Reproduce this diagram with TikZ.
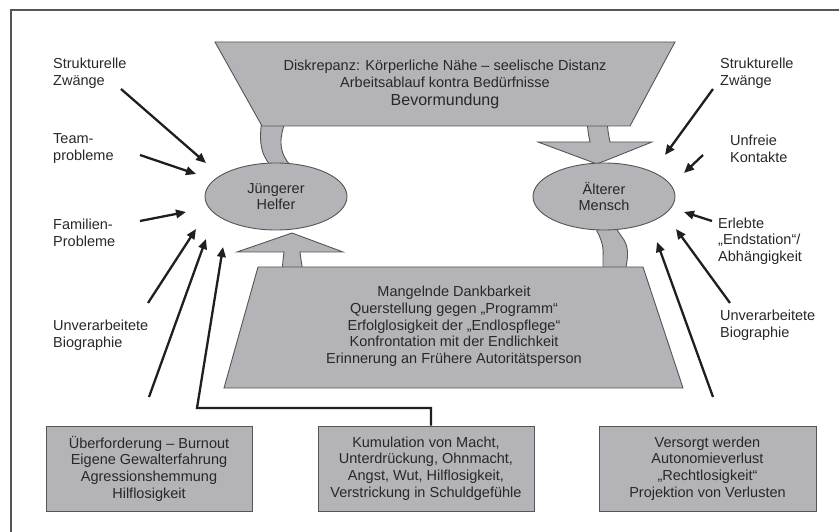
\documentclass[tikz,border=0pt]{standalone}
\usepackage{fontspec}
\setmainfont{Liberation Sans}
\usetikzlibrary{arrows.meta,shapes.geometric,shadows}
\definecolor{fillg}{RGB}{180,180,184}
\definecolor{lineg}{RGB}{85,85,85}
\definecolor{txt}{RGB}{40,40,40}
\begin{document}
\begin{tikzpicture}[x=1pt,y=-1pt,
  lbl/.style={align=left, font=\fontsize{14.5}{16.7}\selectfont, text=txt, inner sep=0pt, anchor=west},
  ctext/.style={align=center, font=\fontsize{14.5}{16.7}\selectfont, text=txt, inner sep=0pt},
  shp/.style={fill=fillg, draw=lineg, line width=0.9pt},
  arr/.style={line width=2.3pt, draw=black!88, -{Triangle[length=10pt,width=8.5pt]}},
  conn/.style={line width=2.3pt, draw=black!88},
  infobox/.style={shp, ctext, minimum height=85pt, drop shadow={shadow xshift=1.2pt, shadow yshift=-1.2pt, fill=black!45, opacity=1}}
]
\useasboundingbox (0,0) rectangle (839,532);
% frame
\draw[lineg, line width=1.2pt] (11,532) -- (11,10) -- (839,10);

% band: top trapezoid -> Juengerer Helfer
\draw[shp] (262,120) .. controls (258,145) and (262,158) .. (275,170)
  -- (295,170) .. controls (282,158) and (276,145) .. (286,120) -- cycle;
% down arrow: top trapezoid -> Aelterer Mensch
\draw[shp] (587,120) .. controls (588,132) .. (590,142) -- (538,142) -- (597,164)
  -- (652,142) -- (610,142) .. controls (608,132) .. (607,120) -- cycle;
% up arrow: bottom trapezoid -> Juengerer Helfer
\draw[shp] (282,272) .. controls (283,260) .. (284,252) -- (237,252) -- (292,233)
  -- (343,252) -- (300,252) .. controls (301,260) .. (303,272) -- cycle;
% band: Aelterer Mensch -> bottom trapezoid
\draw[shp] (592,222) .. controls (600,236) and (604,244) .. (603,256) -- (603,272)
  -- (625,272) .. controls (627,262) and (630,250) .. (624,240) .. controls (620,234) and (616,230) .. (614,222) -- cycle;

% top trapezoid
\draw[shp] (215,42) -- (675,42) -- (630,126) -- (262,126) -- cycle;
\node[ctext] (diskr) at (445,74) {Diskrepanz: Körperliche Nähe – seelische Distanz\\Arbeitsablauf kontra Bedürfnisse};
\node[ctext, font=\fontsize{16}{18}\selectfont] (bevor) at (445,101) {Bevormundung};

% bottom trapezoid
\draw[shp] (258,267) -- (643,267) -- (683,388) -- (224,388) -- cycle;
\node[ctext] (mang) at (454,326.5) {Mangelnde Dankbarkeit\\Querstellung gegen „Programm“\\Erfolglosigkeit der „Endlospflege“\\Konfrontation mit der Endlichkeit\\Erinnerung an Frühere Autoritätsperson};

% ellipses
\node[shp, ctext, ellipse, minimum width=142pt, minimum height=67pt] (jh) at (276,196.5) {Jüngerer\\Helfer};
\node[shp, ctext, ellipse, minimum width=142pt, minimum height=67pt] (am) at (604,196.5) {Älterer\\Mensch};

% left labels
\node[lbl] (lsz) at (53,73.5) {Strukturelle\\Zwänge};
\node[lbl] (ltp) at (53,148.5) {Team-\\probleme};
\node[lbl] (lfp) at (53,232.5) {Familien-\\Probleme};
\node[lbl] (lub) at (53,335) {Unverarbeitete\\Biographie};

% right labels
\node[lbl] (rsz) at (720,73.5) {Strukturelle\\Zwänge};
\node[lbl] (ruk) at (730,148.5) {Unfreie\\Kontakte};
\node[lbl] (rel) at (718,241) {Erlebte\\„Endstation“/\\Abhängigkeit};
\node[lbl] (rub) at (720,325.5) {Unverarbeitete\\Biographie};

% bottom boxes
\node[infobox, minimum width=206pt] (b1) at (149,468.5) {Überforderung – Burnout\\Eigene Gewalterfahrung\\Agressionshemmung\\Hilflosigkeit};
\node[infobox, minimum width=216pt] (b2) at (426,468.5) {Kumulation von Macht,\\Unterdrückung, Ohnmacht,\\Angst, Wut, Hilflosigkeit,\\Verstrickung in Schuldgefühle};
\node[infobox, minimum width=217pt] (b3) at (707.5,468.5) {Versorgt werden\\Autonomieverlust\\„Rechtlosigkeit“\\Projektion von Verlusten};

% arrow coordinates, left
\coordinate (l1s) at (121,89);  \coordinate (l1e) at (206,163);
\coordinate (l2s) at (140,155); \coordinate (l2e) at (196,174);
\coordinate (l3s) at (140,221); \coordinate (l3e) at (186,212);
\coordinate (l4s) at (148,303); \coordinate (l4e) at (196,229);
\coordinate (l5s) at (149,397); \coordinate (l5e) at (206,239);
\coordinate (k1) at (431,408);  \coordinate (k2) at (197,408);
\coordinate (l6e) at (223,247);
% arrow coordinates, right
\coordinate (r1s) at (713,89);  \coordinate (r1e) at (665,155);
\coordinate (r2s) at (703,155); \coordinate (r2e) at (684,173);
\coordinate (r3s) at (712,221); \coordinate (r3e) at (684,212);
\coordinate (r4s) at (730,303); \coordinate (r4e) at (676,229);
\coordinate (r5s) at (713,397); \coordinate (r5e) at (657,242);

\draw[arr] (l1s) -- (l1e);
\draw[arr] (l2s) -- (l2e);
\draw[arr] (l3s) -- (l3e);
\draw[arr] (l4s) -- (l4e);
\draw[arr] (l5s) -- (l5e);
\draw[arr] (b2.north -| k1) -- (k1) -- (k2) -- (l6e);

\draw[arr] (r1s) -- (r1e);
\draw[arr] (r2s) -- (r2e);
\draw[arr] (r3s) -- (r3e);
\draw[arr] (r4s) -- (r4e);
\draw[arr] (r5s) -- (r5e);
\end{tikzpicture}
\end{document}
